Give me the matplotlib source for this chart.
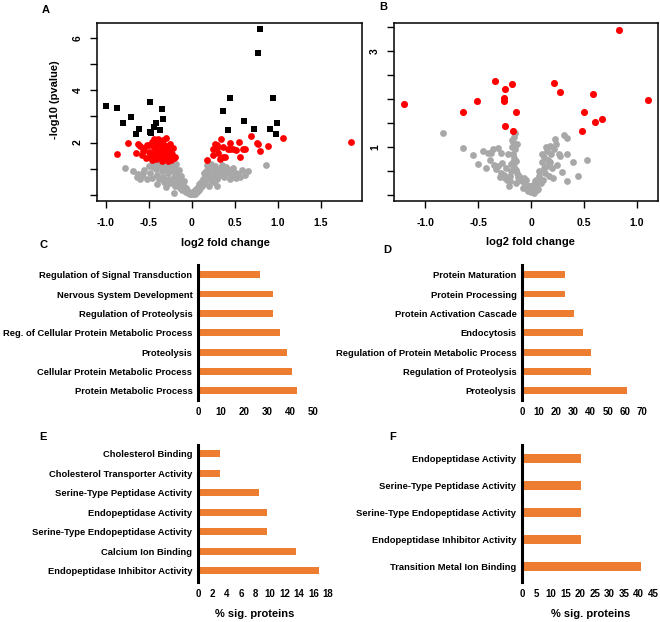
import matplotlib
matplotlib.use("Agg")
import matplotlib.pyplot as plt

plt.rcParams['font.family'] = ['Liberation Sans', 'DejaVu Sans']
plt.rcParams['font.weight'] = 'bold'

# ---------------- Panel A data ----------------
a_black_x = [-1.00, -0.87, -0.71, -0.80, -0.61, -0.65, -0.48, -0.35, -0.33, -0.41, -0.44, -0.37, -0.48, -0.47,
             0.80, 0.77, 0.45, 0.37, 0.42, 0.61, 0.72, 0.94, 0.99, 0.91, 0.98]
a_black_y = [3.40, 3.33, 2.97, 2.74, 2.51, 2.33, 3.54, 3.28, 2.89, 2.76, 2.61, 2.48, 2.42, 2.35,
             6.32, 5.41, 3.68, 3.22, 2.48, 2.81, 2.51, 3.68, 2.74, 2.51, 2.33]

a_red_x = [-0.87, -0.74, -0.62, -0.65, -0.58, -0.55, -0.52, -0.50, -0.48, -0.46, -0.44, -0.43, -0.42, -0.40,
           -0.39, -0.38, -0.37, -0.36, -0.35, -0.34, -0.33, -0.32, -0.31, -0.30, -0.29, -0.28, -0.27, -0.26,
           -0.25, -0.24, -0.23, -0.22, -0.21, -0.53, -0.57, -0.45, -0.41, -0.49, -0.35, -0.28, -0.44, -0.60,
           -0.19, -0.33, -0.46,
           0.336, 0.27, 0.30, 0.44, 0.55, 0.685, 0.755, 0.89, 0.79, 1.06, 1.85, 0.45, 0.52, 0.60, 0.56,
           0.39, 0.25, 0.18, 0.33, 0.31, 0.29, 0.36, 0.42, 0.62, 0.77, 0.48, 0.25, 0.37]
a_red_y = [1.58, 1.98, 1.96, 1.60, 1.52, 1.78, 1.90, 1.65, 1.45, 2.02, 1.80, 1.60, 1.38, 1.95,
           2.15, 1.70, 1.50, 1.85, 2.05, 1.62, 1.40, 1.92, 1.75, 2.18, 1.55, 1.85, 1.45, 1.68,
           1.95, 1.35, 1.58, 1.78, 1.42, 1.42, 1.68, 1.55, 1.72, 1.90, 1.30, 1.30, 2.12, 1.85,
           1.45, 2.10, 1.35,
           2.14, 1.95, 1.78, 2.00, 2.03, 2.25, 1.97, 1.88, 1.69, 2.16, 2.01, 1.74, 1.72, 1.75, 1.44,
           1.44, 1.53, 1.34, 1.37, 1.60, 1.90, 1.84, 1.74, 1.74, 1.96, 1.74, 1.74, 1.46]

a_gray_x = [-0.77, -0.68, -0.62, -0.58, -0.55, -0.50, -0.48, -0.46, -0.44, -0.42, -0.40, -0.38, -0.37, -0.35,
            -0.33, -0.32, -0.30, -0.29, -0.28, -0.26, -0.25, -0.24, -0.22, -0.21, -0.20, -0.19, -0.18, -0.17,
            -0.16, -0.15, -0.14, -0.13, -0.12, -0.11, -0.10, -0.09, -0.08, -0.07, -0.06, -0.05, -0.04, -0.03,
            -0.02, -0.01, -0.21, -0.30, -0.40, -0.52,
            -0.45, -0.40, -0.36, -0.33, -0.27, -0.23, -0.19, -0.15, -0.12, -0.09, -0.60, -0.64, -0.56,
            0.01, 0.02, 0.03, 0.04, 0.05, 0.06, 0.07, 0.08, 0.09, 0.10, 0.11, 0.12, 0.13, 0.14, 0.15, 0.16,
            0.17, 0.18, 0.19, 0.20, 0.22, 0.22, 0.24, 0.25, 0.27, 0.28, 0.30, 0.31, 0.33, 0.35, 0.36, 0.38,
            0.40, 0.42, 0.44, 0.46, 0.48, 0.52, 0.54, 0.58, 0.66, 0.86, 0.30, 0.20,
            0.14, 0.18, 0.21, 0.26, 0.32, 0.37, 0.43, 0.48, 0.51, 0.56, 0.62]
a_gray_y = [1.02, 0.90, 0.80, 0.72, 0.95, 1.10, 0.85, 0.65, 1.20, 1.00, 0.78, 0.60, 1.15, 0.92,
            0.70, 0.50, 1.20, 1.00, 0.82, 0.62, 0.45, 1.10, 0.90, 0.70, 0.52, 0.35, 1.20, 0.80,
            0.60, 0.42, 0.28, 0.55, 0.38, 0.20, 0.45, 0.30, 0.15, 0.25, 0.10, 0.18, 0.08, 0.12,
            0.04, 0.02, 0.09, 0.30, 0.40, 0.60,
            1.05, 1.22, 1.25, 1.05, 1.25, 1.22, 0.98, 0.95, 0.72, 0.55, 0.62, 0.68, 0.85,
            0.03, 0.08, 0.15, 0.05, 0.22, 0.12, 0.30, 0.20, 0.40, 0.28, 0.50, 0.35, 0.62, 0.45, 0.75, 0.55,
            0.90, 0.65, 1.05, 0.78, 1.20, 0.55, 0.95, 0.70, 1.10, 0.82, 0.60, 1.00, 0.75, 1.15, 0.90, 0.68,
            1.05, 0.82, 0.60, 0.95, 0.75, 0.85, 0.80, 0.95, 0.93, 1.13, 0.35, 0.35,
            0.85, 1.15, 0.98, 0.48, 0.80, 1.00, 0.95, 1.02, 0.65, 0.70, 0.78]

# ---------------- Panel B data ----------------
b_red_x = [0.835, -1.20, 1.11, -0.34, -0.18, -0.25, -0.255, -0.255, -0.51, -0.64, -0.145, -0.25, -0.17,
           0.22, 0.27, 0.585, 0.50, 0.675, 0.605, 0.48]
b_red_y = [3.44, 1.89, 1.98, 2.38, 2.30, 2.20, 2.01, 1.95, 1.95, 1.73, 1.73, 1.43, 1.32,
           2.33, 2.14, 2.10, 1.72, 1.57, 1.51, 1.32]

b_gray_x = [-0.83, -0.645, -0.55, -0.425, -0.39, -0.41, -0.36, -0.31, -0.28, -0.33, -0.28, -0.25, -0.20,
            -0.14, -0.08, -0.03, 0.02, 0.05, 0.07, 0.08, 0.10, 0.12, 0.15, 0.18, 0.23, 0.31, 0.34, 0.26,
            0.34, 0.40, 0.44, 0.34, 0.21, 0.15, -0.17, -0.16, -0.16, -0.16, -0.13, -0.19, -0.22, 0.53,
            -0.18, -0.15, -0.17, -0.14, -0.12, -0.10, -0.06, -0.04, 0.00, 0.03, 0.06, 0.09, 0.04, -0.02,
            -0.07, -0.11, -0.21, -0.24, 0.11, 0.13, 0.17, 0.20, 0.25, 0.29, 0.07, 0.01,
            -0.15, -0.18, -0.13, -0.17, -0.14, -0.19, -0.20, -0.23, -0.26, -0.29, -0.31, -0.27,
            -0.09, -0.05, 0.00, 0.05, 0.08, 0.12, 0.16, 0.19, 0.22, 0.24, 0.27, 0.10, 0.14, 0.18,
            -0.01, 0.02, -0.35, -0.38, -0.45, -0.50]
b_gray_y = [1.29, 0.97, 0.83, 0.55, 0.72, 0.88, 0.95, 0.98, 0.88, 0.53, 0.45, 0.35, 0.28,
            0.24, 0.14, 0.07, 0.09, 0.20, 0.33, 0.50, 0.68, 0.78, 0.92, 1.02, 1.16, 1.25, 1.18, 0.85,
            0.85, 0.68, 0.39, 0.28, 0.35, 0.60, 1.10, 1.20, 0.77, 0.58, 0.45, 0.64, 0.85, 0.72,
            1.00, 0.95, 0.68, 0.52, 0.38, 0.30, 0.22, 0.12, 0.05, 0.04, 0.10, 0.24, 0.28, 0.18,
            0.34, 0.40, 0.18, 0.55, 0.30, 0.46, 0.40, 0.55, 0.62, 0.48, 0.12, 0.16,
            1.28, 1.15, 1.05, 0.85, 0.70, 0.50, 0.40, 0.30, 0.42, 0.38, 0.60, 0.66,
            0.28, 0.30, 0.18, 0.30, 0.40, 0.55, 0.72, 0.85, 0.95, 1.05, 0.80, 0.85, 1.00, 0.68,
            0.10, 0.20, 0.62, 0.88, 0.92, 0.65]

# ---------------- Bar chart data ----------------
c_labels = ["Regulation of Signal Transduction", "Nervous System Development", "Regulation of Proteolysis",
            "Reg. of Cellular Protein Metabolic Process", "Proteolysis", "Cellular Protein Metabolic Process",
            "Protein Metabolic Process"]
c_values = [27, 32.5, 32.5, 35.5, 38.8, 41, 43]
c_ticks = [0, 10, 20, 30, 40, 50]

d_labels = ["Protein Maturation", "Protein Processing", "Protein Activation Cascade", "Endocytosis",
            "Regulation of Protein Metabolic Process", "Regulation of Proteolysis", "Proteolysis"]
d_values = [25.3, 25.3, 30.3, 35.4, 40.5, 40.5, 61.5]
d_ticks = [0, 10, 20, 30, 40, 50, 60, 70]

e_labels = ["Cholesterol Binding", "Cholesterol Transporter Activity", "Serine-Type Peptidase Activity",
            "Endopeptidase Activity", "Serine-Type Endopeptidase Activity", "Calcium Ion Binding",
            "Endopeptidase Inhibitor Activity"]
e_values = [3.1, 3.1, 8.4, 9.5, 9.5, 13.6, 16.8]
e_ticks = [0, 2, 4, 6, 8, 10, 12, 14, 16, 18]

f_labels = ["Endopeptidase Activity", "Serine-Type Peptidase Activity", "Serine-Type Endopeptidase Activity",
            "Endopeptidase Inhibitor Activity", "Transition Metal Ion Binding"]
f_values = [20.4, 20.4, 20.4, 20.4, 41]
f_ticks = [0, 5, 10, 15, 20, 25, 30, 35, 40, 45]

W, H = 660, 622
fig = plt.figure(figsize=(W / 100, H / 100), dpi=100)


def add_ax(l, t, r, b):
    return fig.add_axes([l / W, 1 - b / H, (r - l) / W, (b - t) / H])


RED = '#FF0000'
GRAY = '#A8A8A8'
ORANGE = '#ED7D31'
FS = 7.5
BFS = 6.75


def volcano_style(ax, xt, xl, yt, ylab):
    ax.set_xticks(xt)
    ax.set_xticklabels(xl, fontsize=FS, fontweight='bold')
    ax.set_yticks(yt)
    ax.set_yticklabels(ylab, fontsize=FS, fontweight='bold', rotation=90, va='center')
    ax.tick_params(axis='x', length=5, width=1, pad=7)
    ax.tick_params(axis='y', length=5, width=1, pad=5)
    for s in ax.spines.values():
        s.set_linewidth(1.1)


# Panel A
axA = add_ax(97, 23, 362, 201)
axA.scatter(a_gray_x, a_gray_y, s=24, c=GRAY, marker='o', linewidths=0, zorder=2)
axA.scatter(a_red_x, a_red_y, s=24, c=RED, marker='o', linewidths=0, zorder=3)
axA.scatter(a_black_x, a_black_y, s=20, c='black', marker='s', linewidths=0, zorder=4)
axA.set_xlim(-1.10, 1.98)
axA.set_ylim(-0.23, 6.56)
volcano_style(axA, [-1.0, -0.5, 0, 0.5, 1.0, 1.5], ["-1.0", "-0.5", "0", "0.5", "1.0", "1.5"],
              [0, 1, 2, 3, 4, 5, 6], ["", "", "2", "", "4", "", "6"])

# Panel B
axB = add_ax(394, 23, 658, 201)
axB.scatter(b_gray_x, b_gray_y, s=24, c=GRAY, marker='o', linewidths=0, zorder=2)
axB.scatter(b_red_x, b_red_y, s=26, c=RED, marker='o', linewidths=0, zorder=3)
axB.set_xlim(-1.295, 1.20)
axB.set_ylim(-0.13, 3.58)
volcano_style(axB, [-1.0, -0.5, 0, 0.5, 1.0], ["-1.0", "-0.5", "0", "0.5", "1.0"],
              [0, 0.5, 1, 1.5, 2, 2.5, 3, 3.5], ["", "", "1", "", "", "", "3", ""])

fig.text(55 / W, 1 - 100 / H, "-log10 (pvalue)", rotation=90, ha='center', va='center',
         fontsize=8, fontweight='bold')
fig.text(225 / W, 1 - 243 / H, "log2 fold change", ha='center', va='center', fontsize=8, fontweight='bold')
fig.text(530 / W, 1 - 242 / H, "log2 fold change", ha='center', va='center', fontsize=8, fontweight='bold')


def bar_panel(l, t, b, unit_px, xmax, labels, values, ticks, ylo, yhi, height):
    r = l + unit_px * xmax
    ax = add_ax(l, t, r, b)
    n = len(labels)
    pos = list(range(n - 1, -1, -1))
    ax.barh(pos, values, height=height, color=ORANGE, zorder=2)
    ax.set_xlim(0, xmax)
    ax.set_ylim(ylo, yhi)
    ax.set_yticks(pos)
    ax.set_yticklabels(labels, fontsize=BFS, fontweight='bold')
    ax.set_xticks(ticks)
    ax.set_xticklabels([str(v) for v in ticks], fontsize=7, fontweight='bold')
    ax.tick_params(axis='y', length=0, pad=4)
    ax.tick_params(axis='x', length=0, pad=5)
    for k in ('top', 'right', 'bottom'):
        ax.spines[k].set_visible(False)
    ax.spines['left'].set_linewidth(2.2)
    ax.spines['left'].set_color('black')
    ax.patch.set_alpha(0)
    return ax


bar_panel(198, 265, 400, 2.3, 52, c_labels, c_values, c_ticks, -0.48, 6.5, 0.36)
bar_panel(522, 265, 400, 1.714, 72, d_labels, d_values, d_ticks, -0.48, 6.5, 0.36)
bar_panel(198, 445, 582, 7.22, 18.6, e_labels, e_values, e_ticks, -0.57, 6.46, 0.36)
bar_panel(522, 445, 582, 2.91, 46, f_labels, f_values, f_ticks, -0.58, 4.49, 0.33)

fig.text(255 / W, 1 - 614 / H, "% sig. proteins", ha='center', va='center', fontsize=8, fontweight='bold')
fig.text(591 / W, 1 - 614 / H, "% sig. proteins", ha='center', va='center', fontsize=8, fontweight='bold')

# Panel letters
for txt, x, y in [("A", 46, 10), ("B", 383, 7), ("C", 43, 245), ("D", 387, 250), ("E", 43, 437), ("F", 393, 437)]:
    fig.text(x / W, 1 - y / H, txt, ha='center', va='center', fontsize=8, fontweight='bold')

fig.savefig("out.png", dpi=100)
